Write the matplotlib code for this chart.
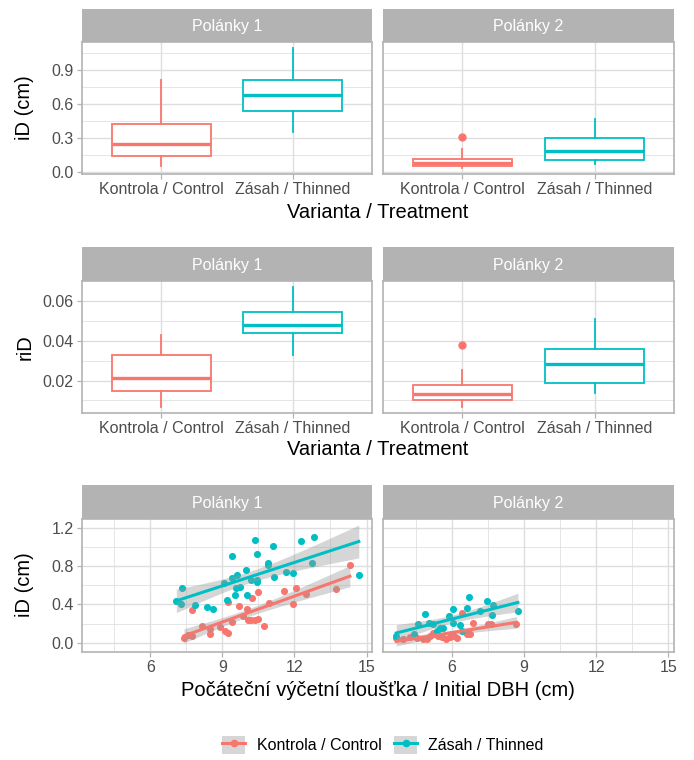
import numpy as np
import matplotlib
matplotlib.use("Agg")
import matplotlib.pyplot as plt
from matplotlib.patches import Patch
from matplotlib.lines import Line2D

plt.rcParams['font.family'] = ['Liberation Sans', 'DejaVu Sans']

W, H = 694, 760
RED = '#F8766D'
TEAL = '#00BFC4'
colors = [RED, TEAL]

sites = ["Polánky 1", "Polánky 2"]
treatments = ["Kontrola / Control", "Zásah / Thinned"]

# box stats: low whisker, q1, median, q3, high whisker
id_p1_ctrl = [0.052, 0.146, 0.25, 0.42, 0.81]
id_p1_thin = [0.35, 0.534, 0.68, 0.81, 1.09]
id_p2_ctrl = [0.038, 0.052, 0.082, 0.117, 0.205]
id_p2_thin = [0.073, 0.111, 0.19, 0.30, 0.47]
id_p2_ctrl_out = [0.31]

rid_p1_ctrl = [0.0067, 0.0145, 0.0212, 0.033, 0.0428]
rid_p1_thin = [0.0328, 0.0437, 0.0478, 0.0542, 0.067]
rid_p2_ctrl = [0.0067, 0.010, 0.013, 0.018, 0.0255]
rid_p2_thin = [0.0138, 0.0187, 0.0283, 0.0357, 0.0508]
rid_p2_ctrl_out = [0.0378]

# scatter: initial DBH (cm) vs iD (cm)
p1_ctrl_x = [7.40, 7.57, 7.75, 7.72, 8.13, 8.47, 8.50, 8.89, 9.10, 9.25, 9.25, 9.40, 9.69, 9.86,
             10.03, 10.05, 10.17, 10.25, 10.35, 10.49, 10.49, 10.72, 10.94, 11.57, 11.92, 12.06,
             12.50, 13.72, 14.31]
p1_ctrl_y = [0.05, 0.076, 0.07, 0.34, 0.17, 0.087, 0.145, 0.16, 0.12, 0.10, 0.43, 0.22, 0.38, 0.28,
             0.35, 0.24, 0.24, 0.47, 0.24, 0.53, 0.25, 0.17, 0.415, 0.54, 0.40, 0.57,
             0.51, 0.56, 0.81]
p1_thin_x = [7.08, 7.33, 7.29, 7.85, 8.36, 8.61, 9.40, 9.21, 9.06, 9.40, 9.51, 9.61, 9.58, 9.72,
             9.97, 10.03, 10.17, 10.36, 10.44, 10.42, 10.42, 10.90, 10.90, 11.14, 11.11, 11.63,
             11.92, 12.29, 12.82, 12.72, 14.68]
p1_thin_y = [0.44, 0.57, 0.40, 0.39, 0.37, 0.35, 0.91, 0.45, 0.62, 0.68, 0.50, 0.71, 0.57, 0.58,
             0.76, 0.50, 0.66, 1.07, 0.93, 0.63, 0.66, 0.83, 0.81, 0.69, 1.01, 0.74,
             0.73, 1.06, 1.10, 0.83, 0.71]
p2_ctrl_x = [3.70, 4.00, 4.28, 4.55, 4.83, 4.97, 5.10, 5.24, 5.31, 5.45, 5.59, 5.77, 5.93, 6.00,
             6.10, 6.23, 6.45, 6.62, 6.76, 6.90, 7.52, 7.65, 8.69]
p2_ctrl_y = [0.05, 0.04, 0.06, 0.05, 0.035, 0.04, 0.07, 0.10, 0.086, 0.07, 0.06, 0.04, 0.06, 0.086,
             0.07, 0.05, 0.31, 0.086, 0.086, 0.21, 0.19, 0.19, 0.20]
p2_thin_x = [3.70, 4.42, 4.60, 4.90, 5.04, 5.21, 5.38, 5.52, 5.66, 5.89, 6.07, 6.07, 6.34, 6.41,
             6.62, 6.70, 7.17, 7.47, 7.72, 7.69, 8.75]
p2_thin_y = [0.07, 0.09, 0.20, 0.30, 0.21, 0.20, 0.12, 0.15, 0.155, 0.28, 0.35, 0.21, 0.18, 0.12,
             0.36, 0.48, 0.33, 0.44, 0.39, 0.29, 0.33]


def px_rect(x0, y0, x1, y1):
    return [x0 / W, 1 - y1 / H, (x1 - x0) / W, (y1 - y0) / H]


def t95(df):
    z = 1.959964
    return z + (z**3 + z) / (4 * df) + (5 * z**5 + 16 * z**3 + 3 * z) / (96 * df**2)


def expand(lo, hi):
    r = hi - lo
    return lo - 0.05 * r, hi + 0.05 * r


def make_panel(fig, x0, x1, strip_top, top, bottom, title):
    ax = fig.add_axes(px_rect(x0, top, x1, bottom))
    sax = fig.add_axes(px_rect(x0, strip_top, x1, top))
    sax.set_facecolor('#B3B3B3')
    sax.set_xticks([])
    sax.set_yticks([])
    for s in sax.spines.values():
        s.set_visible(False)
    sax.text(0.5, 0.47, title, color='white', ha='center', va='center',
             fontsize=11.5, transform=sax.transAxes)
    for s in ax.spines.values():
        s.set_color('#B3B3B3')
        s.set_linewidth(1.2)
    ax.tick_params(which='major', color='#B3B3B3', length=3.6, width=0.9,
                   labelsize=11.5, labelcolor='#4D4D4D', pad=2.5)
    ax.tick_params(which='minor', length=0)
    ax.grid(which='major', color='#DEDEDE', linewidth=1.0)
    ax.grid(which='minor', color='#DEDEDE', linewidth=0.55)
    ax.set_axisbelow(True)
    return ax


def draw_box(ax, pos, st, col, outliers):
    stats = [dict(whislo=st[0], q1=st[1], med=st[2], q3=st[3], whishi=st[4], fliers=outliers)]
    ax.bxp(stats, positions=[pos], widths=0.75, patch_artist=True, showcaps=False,
           boxprops=dict(facecolor='white', edgecolor=col, linewidth=1.3),
           medianprops=dict(color=col, linewidth=2.4),
           whiskerprops=dict(color=col, linewidth=1.3),
           flierprops=dict(marker='o', markerfacecolor=col, markeredgecolor=col, markersize=5))


fig = plt.figure(figsize=(W / 100, H / 100), dpi=100)

cols = [(82, 372), (383, 674)]
rows = [(9, 42, 174), (247, 281, 413), (485, 519, 652)]

# box plot rows
box_rows = [
    ([[id_p1_ctrl, id_p1_thin], [id_p2_ctrl, id_p2_thin]], [[], id_p2_ctrl_out],
     [0.0, 0.3, 0.6, 0.9], ["0.0", "0.3", "0.6", "0.9"], [0.15, 0.45, 0.75, 1.05]),
    ([[rid_p1_ctrl, rid_p1_thin], [rid_p2_ctrl, rid_p2_thin]], [[], rid_p2_ctrl_out],
     [0.02, 0.04, 0.06], ["0.02", "0.04", "0.06"], [0.01, 0.03, 0.05]),
]
for r, (stats, outs, yt, ytl, ymin) in enumerate(box_rows):
    allv = [v for site in stats for b in site for v in b] + [v for o in outs for v in o]
    ylim = expand(min(allv), max(allv))
    for c in range(2):
        ax = make_panel(fig, cols[c][0], cols[c][1], *rows[r], sites[c])
        for t in range(2):
            draw_box(ax, t + 1, stats[c][t], colors[t], outs[c] if t == 0 else [])
        ax.set_xlim(0.4, 2.6)
        ax.set_ylim(*ylim)
        ax.set_xticks([1, 2])
        ax.set_xticklabels(treatments)
        ax.set_yticks(yt)
        ax.set_yticklabels(ytl)
        ax.set_yticks(ymin, minor=True)
        if c == 1:
            ax.tick_params(axis='y', which='major', left=False, labelleft=False)

# scatter row
scat = [[(p1_ctrl_x, p1_ctrl_y), (p1_thin_x, p1_thin_y)],
        [(p2_ctrl_x, p2_ctrl_y), (p2_thin_x, p2_thin_y)]]
fits = []
for c in range(2):
    site_fits = []
    for t in range(2):
        x = np.array(scat[c][t][0])
        y = np.array(scat[c][t][1])
        n = len(x)
        b1, b0 = np.polyfit(x, y, 1)
        res = y - (b0 + b1 * x)
        s = np.sqrt(np.sum(res**2) / (n - 2))
        xs = np.linspace(x.min(), x.max(), 80)
        pred = b0 + b1 * xs
        se = s * np.sqrt(1 / n + (xs - x.mean())**2 / np.sum((x - x.mean())**2))
        tq = t95(n - 2)
        site_fits.append((xs, pred, pred - tq * se, pred + tq * se))
    fits.append(site_fits)

all_x = [v for site in scat for g in site for v in g[0]]
all_y = [v for site in scat for g in site for v in g[1]]
all_y += [v for site in fits for f in site for v in np.concatenate([f[2], f[3]])]
xlim = expand(min(all_x), max(all_x))
ylim = expand(min(all_y), max(all_y))

for c in range(2):
    ax = make_panel(fig, cols[c][0], cols[c][1], *rows[2], sites[c])
    for t in range(2):
        x, y = scat[c][t]
        ax.scatter(x, y, s=26, color=colors[t], linewidths=0, zorder=2)
    for t in range(2):
        xs, pred, lo, hi = fits[c][t]
        ax.fill_between(xs, lo, hi, color='#999999', alpha=0.4, linewidth=0, zorder=3)
        ax.plot(xs, pred, color=colors[t], linewidth=2.2, zorder=4)
    ax.set_xlim(*xlim)
    ax.set_ylim(*ylim)
    ax.set_xticks([6, 9, 12, 15])
    ax.set_xticks([4.5, 7.5, 10.5, 13.5], minor=True)
    ax.set_yticks([0.0, 0.4, 0.8, 1.2])
    ax.set_yticklabels(["0.0", "0.4", "0.8", "1.2"])
    ax.set_yticks([0.2, 0.6, 1.0], minor=True)
    if c == 1:
        ax.tick_params(axis='y', which='major', left=False, labelleft=False)

# axis titles
fig.text(378 / W, 1 - 212 / H, "Varianta / Treatment", ha='center', va='center', fontsize=14.5)
fig.text(378 / W, 1 - 450 / H, "Varianta / Treatment", ha='center', va='center', fontsize=14.5)
fig.text(378 / W, 1 - 690 / H, "Počáteční výčetní tloušťka / Initial DBH (cm)",
         ha='center', va='center', fontsize=14.5)
fig.text(25 / W, 1 - 108 / H, "iD (cm)", rotation=90, ha='center', va='center', fontsize=14.5)
fig.text(25 / W, 1 - 347 / H, "riD", rotation=90, ha='center', va='center', fontsize=14.5)
fig.text(25 / W, 1 - 585 / H, "iD (cm)", rotation=90, ha='center', va='center', fontsize=14.5)

# legend
handles = []
for t in range(2):
    bg = Patch(facecolor='#999999', alpha=0.4, edgecolor='none')
    ln = Line2D([], [], color=colors[t], linewidth=2.2, marker='o', markersize=4.5)
    handles.append((bg, ln))
fig.legend(handles, treatments, loc='center', bbox_to_anchor=(383 / W, 1 - 745 / H), ncol=2,
           frameon=False, fontsize=11.5, handlelength=1.45, handleheight=1.45,
           handletextpad=0.7, columnspacing=0.8)

fig.savefig("out.png", dpi=100)
